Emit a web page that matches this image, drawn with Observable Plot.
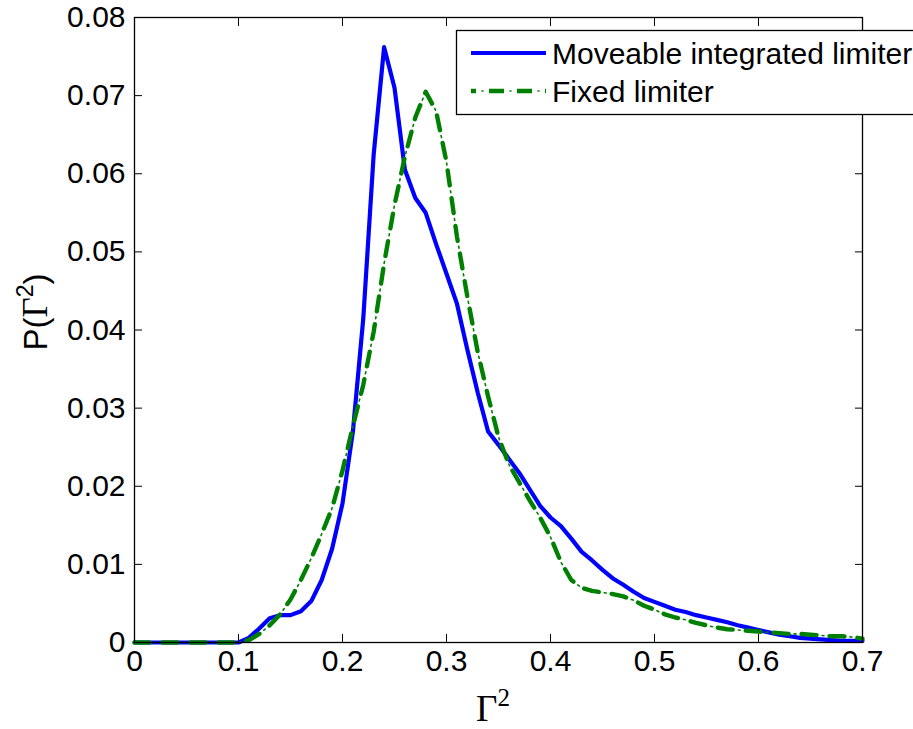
<!DOCTYPE html>
<html>
<head>
<meta charset="utf-8">
<script src="https://cdn.jsdelivr.net/npm/d3@7"></script>
<script src="https://cdn.jsdelivr.net/npm/@observablehq/plot@0.6"></script>
<style>
  html, body { margin: 0; padding: 0; background: white; overflow: hidden; }
  #chart { position: relative; width: 913px; height: 729px; }
</style>
</head>
<body>
<div id="chart"></div>
<script>
// ---- data ----
const gamma2 = [0.00,0.01,0.02,0.03,0.04,0.05,0.06,0.07,0.08,0.09,
  0.10,0.11,0.12,0.13,0.14,0.15,0.16,0.17,0.18,0.19,
  0.20,0.21,0.22,0.23,0.24,0.25,0.26,0.27,0.28,0.29,
  0.30,0.31,0.32,0.33,0.34,0.35,0.36,0.37,0.38,0.39,
  0.40,0.41,0.42,0.43,0.44,0.45,0.46,0.47,0.48,0.49,
  0.50,0.51,0.52,0.53,0.54,0.55,0.56,0.57,0.58,0.59,
  0.60,0.61,0.62,0.63,0.64,0.65,0.66,0.67,0.68,0.69,0.70];

const moveable = [0,0,0,0,0,0,0,0,0,0,
  0,0.0006,0.0018,0.0031,0.0035,0.0035,0.0040,0.0053,0.0080,0.0120,
  0.0178,0.0270,0.0415,0.0625,0.0762,0.0710,0.0605,0.0569,0.0550,0.0510,
  0.0472,0.0434,0.0375,0.0320,0.0270,0.0253,0.0235,0.0217,0.0196,0.0175,
  0.0160,0.0149,0.0133,0.0116,0.0105,0.0093,0.0082,0.0074,0.0065,0.0057,
  0.0052,0.0047,0.0042,0.0039,0.0035,0.0032,0.0029,0.0026,0.0022,0.0019,
  0.0016,0.0013,0.0010,0.0008,0.0006,0.0005,0.0004,0.0003,0.0002,0.0002,0.0002];

const fixed = [0,0,0,0,0,0,0,0,0,0,
  0,0.0003,0.0011,0.0022,0.0036,0.0055,0.0080,0.0108,0.0139,0.0172,
  0.0220,0.0277,0.0330,0.0398,0.0485,0.0560,0.0622,0.0672,0.0705,0.0680,
  0.0615,0.0520,0.0443,0.0372,0.0315,0.0263,0.0228,0.0205,0.0182,0.0160,
  0.0135,0.0103,0.0080,0.0070,0.0066,0.0064,0.0062,0.0059,0.0054,0.0047,
  0.0042,0.0036,0.0032,0.0029,0.0025,0.0022,0.0019,0.0017,0.0016,0.0015,
  0.0014,0.0013,0.0012,0.0011,0.0011,0.0010,0.0009,0.0008,0.0008,0.0007,0.0005];

const xTicks = [0, 0.1, 0.2, 0.3, 0.4, 0.5, 0.6, 0.7];
const yTicks = [0, 0.01, 0.02, 0.03, 0.04, 0.05, 0.06, 0.07, 0.08];
const seriesNames = ["Moveable integrated limiter", "Fixed limiter"];
const seriesColors = ["#0000ff", "#008000"];

// ---- build tables ----
const blueData = gamma2.map((g, i) => ({x: g, y: moveable[i]}));
const greenData = gamma2.map((g, i) => ({x: g, y: fixed[i]}));

const fmt = d => d === 0 ? "0" : String(+d.toFixed(2));
const blank = () => "";
const dashThick = "15,13";
const dashThin = "2,26";
const thinOffset = 7.5;
const FS = 30;

const chart = Plot.plot({
  width: 913,
  height: 729,
  marginLeft: 134,
  marginRight: 51,
  marginTop: 17,
  marginBottom: 87,
  style: {fontFamily: "'Liberation Sans', Arial, sans-serif", fontSize: FS + "px", background: "white", color: "black"},
  x: {domain: [0, 0.7], label: null},
  y: {domain: [0, 0.08], label: null},
  marks: [
    Plot.line(blueData, {x: "x", y: "y", stroke: seriesColors[0], strokeWidth: 4.2, strokeLinejoin: "round"}),
    Plot.line(greenData, {x: "x", y: "y", stroke: seriesColors[1], strokeWidth: 4.4, strokeDasharray: dashThick}),
    Plot.line(greenData, {x: "x", y: "y", stroke: seriesColors[1], strokeWidth: 1.6, strokeDasharray: dashThin, strokeDashoffset: thinOffset}),
    Plot.frame({stroke: "black", strokeWidth: 1.3}),
    Plot.axisX(xTicks, {anchor: "bottom", tickSize: -8, tickPadding: 15, tickFormat: fmt, label: null, fontSize: FS}),
    Plot.axisX(xTicks, {anchor: "top", tickSize: -8, tickFormat: blank, label: null}),
    Plot.axisY(yTicks, {anchor: "left", tickSize: -8, tickPadding: 17, tickFormat: fmt, label: null, fontSize: FS}),
    Plot.axisY(yTicks, {anchor: "right", tickSize: -8, tickFormat: blank, label: null})
  ]
});

document.getElementById("chart").appendChild(chart);

// ---- axis titles and legend (added into the same SVG) ----
const svg = d3.select(chart);

// x label  Γ²
const xl = svg.append("text")
  .attr("x", 493).attr("y", 721)
  .attr("text-anchor", "middle")
  .attr("fill", "black")
  .style("font-family", "'Liberation Serif', 'Times New Roman', serif")
  .style("font-size", "37px");
xl.append("tspan").text("Γ");
xl.append("tspan").attr("dy", -15).style("font-size", "25px").text("2");

// y label  P(Γ²)
const yl = svg.append("text")
  .attr("transform", "translate(47,312) rotate(-90)")
  .attr("text-anchor", "middle")
  .attr("fill", "black")
  .style("font-family", "'Liberation Sans', Arial, sans-serif")
  .style("font-size", "33px");
yl.append("tspan").text("P(");
yl.append("tspan").style("font-family", "'Liberation Serif', 'Times New Roman', serif").style("font-size", "35px").text("Γ");
yl.append("tspan").attr("dy", -14).style("font-size", "23px").text("2");
yl.append("tspan").attr("dy", 14).text(")");

// legend
const lg = svg.append("g");
lg.append("rect")
  .attr("x", 456.5).attr("y", 30.5).attr("width", 480).attr("height", 84)
  .attr("fill", "white").attr("stroke", "black").attr("stroke-width", 1.3);
const rows = [53, 91];
seriesNames.forEach((name, i) => {
  if (i === 0) {
    lg.append("line")
      .attr("x1", 471).attr("x2", 546).attr("y1", rows[i]).attr("y2", rows[i])
      .attr("stroke", seriesColors[i]).attr("stroke-width", 4.2);
  } else {
    lg.append("line")
      .attr("x1", 471).attr("x2", 546).attr("y1", rows[i]).attr("y2", rows[i])
      .attr("stroke", seriesColors[i]).attr("stroke-width", 4.4)
      .attr("stroke-dasharray", dashThick).attr("stroke-dashoffset", -18);
    lg.append("line")
      .attr("x1", 471).attr("x2", 546).attr("y1", rows[i]).attr("y2", rows[i])
      .attr("stroke", seriesColors[i]).attr("stroke-width", 1.6)
      .attr("stroke-dasharray", dashThin).attr("stroke-dashoffset", thinOffset - 18);
  }
  lg.append("text")
    .attr("x", 552).attr("y", rows[i] + 11)
    .attr("text-anchor", "start")
    .attr("fill", "black")
    .style("font-family", "'Liberation Sans', Arial, sans-serif")
    .style("font-size", FS + "px")
    .text(name);
});
</script>
</body>
</html>
